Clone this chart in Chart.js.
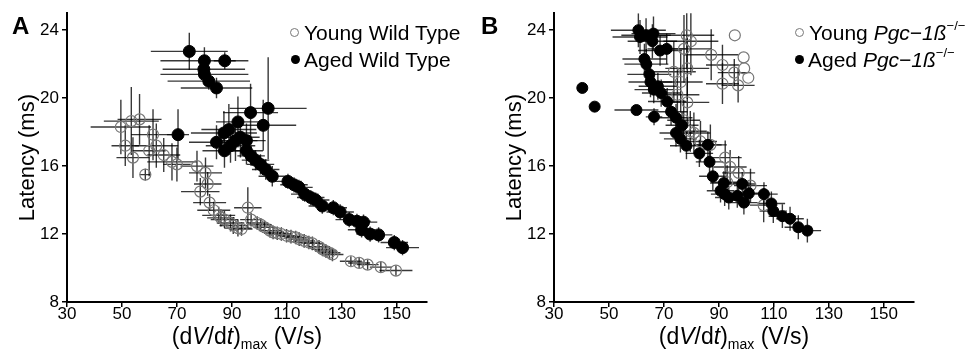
<!DOCTYPE html>
<html>
<head>
<meta charset="utf-8">
<script src="https://cdn.jsdelivr.net/npm/chart.js@4/dist/chart.umd.min.js"></script>
<style>
  body { margin: 0; background: #fff; font-family: "Liberation Sans", Arial, sans-serif; }
  #wrap { position: relative; width: 974px; height: 352px; overflow: hidden; }
  .panel { position: absolute; top: 0; width: 487px; height: 352px; }
  .panel canvas { position: absolute; left: 0; top: 0; }
  .tag { position: absolute; top: 12px; font-size: 24px; font-weight: bold; line-height: 28px; }
  .leg { position: absolute; font-size: 21px; line-height: 24px; white-space: nowrap; color: #000; }
  .dot { position: absolute; width: 9px; height: 9px; border-radius: 50%; box-sizing: border-box; }
  .dot.open { border: 1.2px solid #777; }
  .dot.full { background: #000; }
  .xt { position: absolute; left: 0; width: 494px; top: 323px; text-align: center; font-size: 23px; line-height: 26px; white-space: nowrap; }
  .xt sub { font-size: 14px; vertical-align: baseline; position: relative; top: 5px; }
  sup { font-size: 13px; vertical-align: baseline; position: relative; top: -10px; }
</style>
</head>
<body>
<div id="wrap">
  <div class="panel" style="left:0">
    <canvas id="chartA" width="487" height="352"></canvas>
    <div class="tag" style="left:12px">A</div>
    <div class="dot open" style="left:290px;top:28px"></div>
    <div class="leg" style="left:304px;top:21px">Young Wild Type</div>
    <div class="dot full" style="left:291px;top:55px"></div>
    <div class="leg" style="left:304px;top:48px">Aged Wild Type</div>
    <div class="xt">(d<i>V</i>/d<i>t</i>)<sub>max</sub> (V/s)</div>
  </div>
  <div class="panel" style="left:487px">
    <canvas id="chartB" width="487" height="352"></canvas>
    <div class="tag" style="left:-6px">B</div>
    <div class="dot open" style="left:308px;top:28px"></div>
    <div class="leg" style="left:322px;top:21px">Young <i>Pgc−1ß</i><sup>−/−</sup></div>
    <div class="dot full" style="left:308px;top:55px"></div>
    <div class="leg" style="left:321px;top:48px">Aged <i>Pgc−1ß</i><sup>−/−</sup></div>
    <div class="xt">(d<i>V</i>/d<i>t</i>)<sub>max</sub> (V/s)</div>
  </div>
</div>
<script>
// axis ticks
const xTicks = [30, 50, 70, 90, 110, 130, 150];
const yTicks = [8, 12, 16, 20, 24];

// Panel A - Young Wild Type
const youngWtX = [49.6, 53.4, 56.4, 51.2, 54.0, 58.5, 59.9, 61.3, 62.5, 65.2, 68.2, 70.0, 77.3, 80.4, 81.2, 78.5, 81.9, 83.4, 85.2, 86.0, 87.3, 89.5, 90.5, 92.2, 93.5, 95.8, 97.0, 99.2, 100.5, 101.9, 103.8, 105.0, 106.5, 108.0, 109.9, 111.5, 113.2, 114.5, 116.3, 118.0, 119.3, 121.7, 123.0, 124.2, 125.5, 126.6, 133.3, 136.3, 139.4, 144.2, 149.7];
const youngWtY = [18.3, 18.65, 18.75, 17.2, 16.5, 15.5, 16.9, 17.85, 17.2, 16.65, 16.25, 16.1, 16.0, 15.6, 14.95, 14.5, 13.85, 13.4, 13.1, 12.95, 12.85, 12.65, 12.5, 12.35, 12.3, 13.55, 12.85, 12.65, 12.55, 12.4, 12.2, 12.1, 12.05, 12.0, 11.9, 11.85, 11.8, 11.7, 11.6, 11.5, 11.45, 11.25, 11.1, 11.0, 10.9, 10.8, 10.4, 10.3, 10.2, 10.05, 9.85];
const youngWtXErr = [11, 10, 8, 5, 6, 2, 6, 8, 8, 6, 9, 5, 6, 6, 5, 7, 6, 6, 6, 5, 5, 5, 5, 5, 4, 5, 4, 4, 4, 4, 4, 4, 4, 4, 4, 4, 4, 4, 4, 4, 4, 4, 4, 4, 4, 4, 4, 4, 4, 4, 6];
const youngWtYErr = [1.6, 2.0, 1.5, 1.2, 1.2, 0.35, 1.5, 1.5, 1.3, 1.0, 1.1, 1.0, 0.9, 0.9, 0.7, 0.8, 0.5, 0.5, 0.5, 0.5, 0.5, 0.5, 0.5, 0.5, 0.4, 1.2, 0.4, 0.4, 0.4, 0.4, 0.4, 0.4, 0.4, 0.4, 0.4, 0.4, 0.4, 0.4, 0.4, 0.4, 0.4, 0.4, 0.4, 0.4, 0.4, 0.4, 0.3, 0.3, 0.3, 0.3, 0.3];

// Panel A - Aged Wild Type
const agedWtX = [74.5, 80.0, 87.4, 79.8, 80.0, 81.6, 84.4, 70.4, 84.4, 87.1, 88.9, 92.2, 96.8, 101.4, 103.2, 87.3, 89.5, 91.3, 93.1, 95.3, 95.3, 97.0, 98.6, 100.4, 102.3, 104.7, 110.4, 112.6, 114.4, 116.5, 118.7, 120.5, 122.9, 126.9, 129.4, 132.7, 135.5, 137.9, 137.2, 140.3, 143.4, 149.1, 152.1];
const agedWtY = [22.75, 22.2, 22.2, 21.7, 21.4, 21.0, 20.6, 17.85, 17.4, 17.95, 18.15, 18.6, 19.15, 18.4, 19.4, 16.9, 17.2, 17.5, 17.7, 17.5, 16.9, 16.6, 16.35, 16.1, 15.8, 15.4, 15.1, 14.9, 14.75, 14.35, 14.15, 14.0, 13.65, 13.55, 13.3, 12.85, 12.75, 12.7, 12.25, 12.0, 11.95, 11.5, 11.2];
const agedWtXErr = [14, 16, 4, 15, 16, 15, 13, 4, 10, 12, 10, 8, 10, 12, 14, 8, 9, 8, 7, 7, 6, 5, 5, 5, 5, 5, 5, 5, 5, 5, 5, 5, 5, 5, 5, 5, 5, 5, 5, 5, 5, 5, 6];
const agedWtYErr = [1.1, 0.8, 0.5, 0.6, 0.6, 0.5, 0.6, 1.5, 1.0, 1.3, 1.5, 1.5, 1.7, 1.5, 3.0, 1.0, 1.0, 1.2, 1.2, 1.0, 0.8, 0.6, 0.6, 0.6, 0.6, 0.6, 0.45, 0.45, 0.45, 0.45, 0.45, 0.45, 0.45, 0.45, 0.45, 0.45, 0.45, 0.45, 0.45, 0.45, 0.45, 0.45, 0.45];

// Panel B - Young Pgc-1b-/-
const youngKoX = [95.8, 99.0, 99.2, 100.7, 95.6, 91.3, 91.3, 97.0, 87.2, 78.3, 79.8, 77.3, 78.5, 73.6, 76.1, 78.5, 74.9, 77.2, 80.9, 83.3, 86.9, 92.3, 94.1, 97.2, 101.5, 106.3, 93.0, 79.6];
const youngKoY = [23.7, 22.4, 21.75, 21.2, 21.5, 21.95, 20.85, 20.75, 22.55, 23.7, 23.35, 22.9, 21.75, 21.55, 20.95, 19.75, 20.2, 18.7, 17.95, 17.45, 17.25, 16.5, 15.95, 15.6, 14.85, 13.7, 15.05, 18.05];
const youngKoXErr = [0, 0, 0, 0, 6, 6, 6, 6, 10, 10, 10, 10, 8, 8, 8, 8, 8, 6, 6, 6, 6, 6, 6, 6, 6, 5, 6, 6];
const youngKoYErr = [0, 0, 0, 0, 0.8, 1.2, 1.2, 1.0, 1.5, 2.0, 2.0, 2.0, 1.8, 1.8, 1.8, 1.5, 1.5, 1.2, 1.2, 1.2, 1.2, 1.0, 1.0, 1.0, 1.0, 1.0, 1.0, 1.2];

// Panel B - Aged Pgc-1b-/-
const agedKoX = [40.3, 44.8, 60.0, 66.4, 60.7, 61.3, 63.5, 66.2, 65.8, 68.6, 71.0, 62.9, 63.6, 64.7, 65.1, 67.8, 66.3, 69.0, 71.2, 72.6, 74.4, 76.6, 74.4, 76.0, 78.2, 82.9, 86.0, 86.6, 87.8, 91.8, 90.6, 92.1, 93.6, 96.7, 98.5, 99.1, 100.9, 106.4, 109.1, 109.8, 113.1, 115.9, 118.9, 122.2];
const agedKoY = [20.6, 19.5, 19.3, 18.9, 24.0, 23.6, 23.7, 23.8, 23.35, 22.8, 22.9, 22.3, 22.0, 21.4, 20.95, 20.7, 20.5, 20.3, 19.8, 19.2, 18.85, 18.4, 17.95, 17.6, 17.2, 16.75, 17.25, 16.25, 15.4, 15.0, 14.55, 14.35, 14.15, 14.25, 14.95, 13.85, 14.4, 14.35, 13.8, 13.35, 13.05, 12.9, 12.4, 12.2];
const agedKoXErr = [0, 0, 8, 3, 10, 10, 9, 8, 9, 8, 7, 8, 8, 8, 8, 7, 7, 7, 7, 6, 6, 6, 6, 6, 6, 5, 5, 5, 5, 5, 5, 5, 5, 5, 5, 5, 5, 5, 5, 5, 5, 5, 5, 5];
const agedKoYErr = [0, 0, 0.2, 0.5, 1.0, 1.0, 1.0, 1.0, 1.0, 0.9, 0.9, 0.9, 0.9, 0.9, 0.9, 0.8, 0.8, 0.8, 0.8, 0.8, 0.8, 0.8, 0.8, 0.8, 0.8, 0.8, 0.8, 0.8, 0.8, 0.7, 0.7, 0.7, 0.7, 0.7, 0.7, 0.7, 0.7, 0.7, 0.7, 0.7, 0.7, 0.7, 0.7, 0.7];

const FONT = "'Liberation Sans', Arial, sans-serif";

function points(xs, ys, xe, ye) {
  return xs.map((x, i) => ({ x: x, y: ys[i], xe: xe[i], ye: ye[i] }));
}

// draws x/y error bars under the points, using the chart's scales
const errorBars = {
  id: "errorBars",
  beforeDatasetsDraw(chart) {
    const { ctx, chartArea: a, scales: { x, y } } = chart;
    ctx.save();
    ctx.beginPath();
    ctx.rect(a.left, a.top, a.right - a.left, a.bottom - a.top);
    ctx.clip();
    ctx.strokeStyle = "rgba(0,0,0,0.78)";
    ctx.lineWidth = 1.4;
    chart.data.datasets.forEach((ds) => {
      ds.data.forEach((p) => {
        const px = x.getPixelForValue(p.x);
        const py = y.getPixelForValue(p.y);
        ctx.beginPath();
        ctx.moveTo(x.getPixelForValue(p.x - p.xe), py);
        ctx.lineTo(x.getPixelForValue(p.x + p.xe), py);
        ctx.moveTo(px, y.getPixelForValue(p.y - p.ye));
        ctx.lineTo(px, y.getPixelForValue(p.y + p.ye));
        ctx.stroke();
      });
    });
    ctx.restore();
  },
};

function axis(ticks, min, max, pad) {
  return {
    type: "linear",
    min: min,
    max: max,
    afterBuildTicks: (s) => { s.ticks = ticks.map((v) => ({ value: v })); },
    grid: { display: true, drawOnChartArea: false, drawTicks: true, tickLength: 5, color: "#000", lineWidth: 1.5 },
    border: { display: true, color: "#000", width: 2 },
    ticks: { color: "#000", font: { family: FONT, size: 17 }, padding: pad, maxRotation: 0 },
  };
}

function makePanel(id, aged, young, radius) {
  const xAxis = axis(xTicks, 30, 161, -3);
  xAxis.afterFit = (s) => { s.height = 50; };
  const yAxis = axis(yTicks, 8, 25, 3);
  yAxis.afterFit = (s) => { s.width = 67; };
  yAxis.title = { display: true, text: "Latency (ms)", color: "#000", font: { family: FONT, size: 22 }, padding: { top: 15, bottom: 0 } };

  new Chart(document.getElementById(id), {
    type: "scatter",
    data: {
      datasets: [
        {
          label: "Aged",
          data: aged,
          pointRadius: radius,
          pointBackgroundColor: "#000",
          pointBorderColor: "#000",
          pointBorderWidth: 1,
        },
        {
          label: "Young",
          data: young,
          pointRadius: 5.5,
          pointBackgroundColor: "rgba(0,0,0,0)",
          pointBorderColor: "#777",
          pointBorderWidth: 1.2,
        },
      ],
    },
    options: {
      responsive: false,
      animation: false,
      layout: { padding: { top: 12, right: 60, left: 0, bottom: 0 } },
      plugins: { legend: { display: false }, tooltip: { enabled: false } },
      scales: { x: xAxis, y: yAxis },
    },
    plugins: [errorBars],
  });
}

makePanel("chartA",
  points(agedWtX, agedWtY, agedWtXErr, agedWtYErr),
  points(youngWtX, youngWtY, youngWtXErr, youngWtYErr), 6);
makePanel("chartB",
  points(agedKoX, agedKoY, agedKoXErr, agedKoYErr),
  points(youngKoX, youngKoY, youngKoXErr, youngKoYErr), 5.5);
</script>
</body>
</html>
